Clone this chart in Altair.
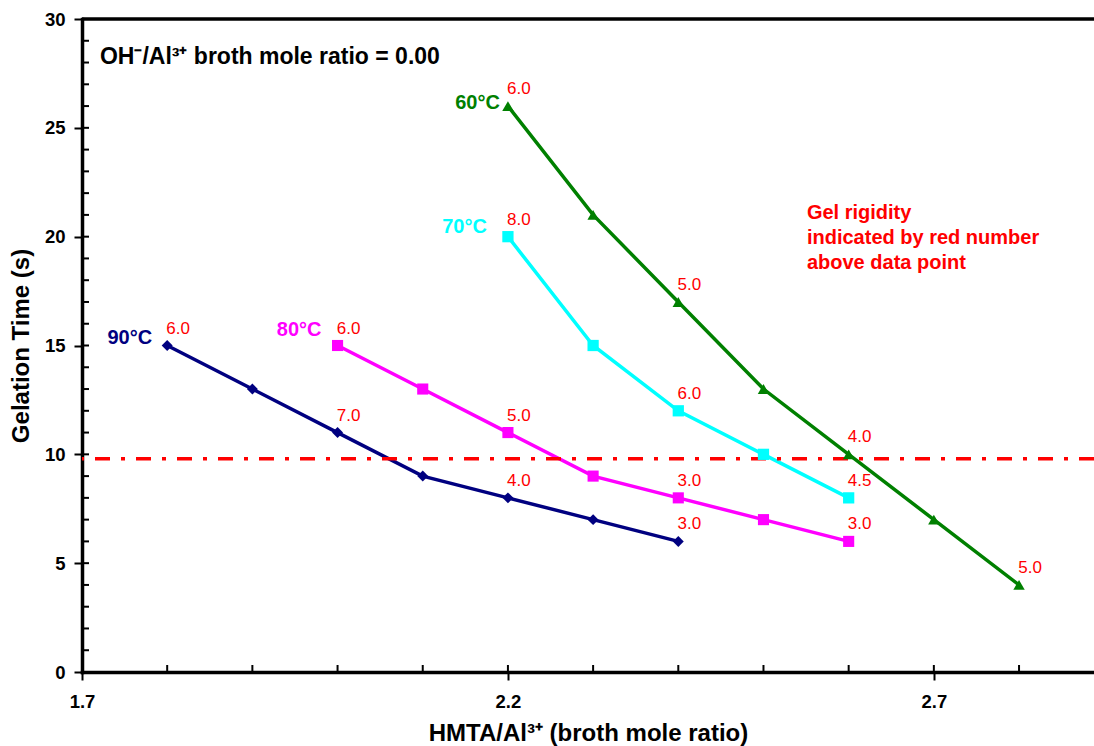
import altair as alt
import pandas as pd

# ---- data ----
series_names = ["90°C", "80°C", "70°C", "60°C"]

x_90 = [1.8, 1.9, 2.0, 2.1, 2.2, 2.3, 2.4]
y_90 = [15, 13, 11, 9, 8, 7, 6]
r_90 = ["6.0", "", "7.0", "", "4.0", "", "3.0"]

x_80 = [2.0, 2.1, 2.2, 2.3, 2.4, 2.5, 2.6]
y_80 = [15, 13, 11, 9, 8, 7, 6]
r_80 = ["6.0", "", "5.0", "", "3.0", "", "3.0"]

x_70 = [2.2, 2.3, 2.4, 2.5, 2.6]
y_70 = [20, 15, 12, 10, 8]
r_70 = ["8.0", "", "6.0", "", "4.5"]

x_60 = [2.2, 2.3, 2.4, 2.5, 2.6, 2.7, 2.8]
y_60 = [26, 21, 17, 13, 10, 7, 4]
r_60 = ["6.0", "", "5.0", "", "4.0", "", "5.0"]

threshold = 9.8
x_major_ticks = [1.7, 2.2, 2.7]
x_minor_ticks = [1.7, 1.8, 1.9, 2.0, 2.1, 2.2, 2.3, 2.4, 2.5, 2.6, 2.7, 2.8]
y_major_ticks = [0, 5, 10, 15, 20, 25, 30]
y_minor_ticks = list(range(0, 31))

note_text = "OH⁻/Al³⁺ broth mole ratio = 0.00"
note_pos = (1.721, 28.25)
gel_text = ["Gel rigidity", "indicated by red number", "above data point"]
gel_pos = (2.551, 21.55)

# ---- styles ----
FONT = "Liberation Sans"
colors = {"90°C": "#000080", "80°C": "#FF00FF", "70°C": "#00FFFF", "60°C": "#008000"}
shapes = {"90°C": "diamond", "80°C": "square", "70°C": "square", "60°C": "triangle-up"}
sizes = {"90°C": 120, "80°C": 130, "70°C": 130, "60°C": 130}
label_offsets = {"90°C": (-15, -8), "80°C": (-16, -16), "70°C": (-21, -10), "60°C": (-8, -3)}

rows = []
for name, xs, ys, rs in [("90°C", x_90, y_90, r_90), ("80°C", x_80, y_80, r_80),
                         ("70°C", x_70, y_70, r_70), ("60°C", x_60, y_60, r_60)]:
    for i, (xv, yv, rv) in enumerate(zip(xs, ys, rs)):
        rows.append({"series": name, "x": xv, "y": yv, "rig": rv, "order": i})
df = pd.DataFrame(rows)

xscale = alt.Scale(domain=[1.7, 2.888], nice=False, zero=False)
yscale = alt.Scale(domain=[0, 30], nice=False)

col_scale = alt.Scale(domain=series_names, range=[colors[s] for s in series_names])
shape_scale = alt.Scale(domain=series_names, range=[shapes[s] for s in series_names])
size_scale = alt.Scale(domain=series_names, range=[sizes[s] for s in series_names])

X_TITLE = "HMTA/Al³⁺ (broth mole ratio)"
Y_TITLE = "Gelation Time (s)"
axis_style = dict(
    grid=False, tickSize=8, tickWidth=2, domainWidth=3.5, domainColor="black",
    tickColor="black", labelFont=FONT, labelFontSize=18.5, labelFontWeight="bold",
    labelColor="black", titleFont=FONT, titleFontSize=24,
    titleFontWeight="bold", titleColor="black", labelFlush=False, domainCap="square",
)
x_axis = alt.Axis(values=x_major_ticks, format=".1f", title=X_TITLE,
                  titlePadding=11, labelPadding=12, **axis_style)
y_axis = alt.Axis(values=y_major_ticks, title=Y_TITLE, titlePadding=11, labelPadding=9,
                  **axis_style)


def X(field="x"):
    return alt.X(f"{field}:Q", scale=xscale, axis=x_axis)


def Y(field="y"):
    return alt.Y(f"{field}:Q", scale=yscale, axis=y_axis)


base = alt.Chart(df)

lines = base.mark_line(strokeWidth=3.5).encode(
    x=X(), y=Y(),
    color=alt.Color("series:N", scale=col_scale, legend=None),
    detail="series:N",
    order="order:Q",
)
points = base.mark_point(filled=True, opacity=1).encode(
    x=X(), y=Y(),
    color=alt.Color("series:N", scale=col_scale, legend=None),
    shape=alt.Shape("series:N", scale=shape_scale, legend=None),
    size=alt.Size("series:N", scale=size_scale, legend=None),
)
rig_text = base.transform_filter("datum.rig != ''").mark_text(
    font=FONT, fontSize=17, color="#FF0000", align="center", baseline="middle", dx=11, dy=-17
).encode(x=X(), y=Y(), text="rig:N")

series_labels = []
for s in series_names:
    dx, dy = label_offsets[s]
    series_labels.append(
        base.transform_filter(f"datum.series == '{s}' && datum.order == 0").mark_text(
            font=FONT, fontSize=20, fontWeight="bold", color=colors[s], align="right",
            baseline="middle", dx=dx, dy=dy
        ).encode(x=X(), y=Y(), text="series:N")
    )

thr = alt.Chart(pd.DataFrame({"y": [threshold]})).mark_rule(
    color="#FF0000", strokeWidth=3.5, strokeDash=[15, 11, 4, 11]
).encode(y=Y())

top_border = alt.Chart(pd.DataFrame({"y": [30]})).mark_rule(color="black", strokeWidth=3.5).encode(
    y=Y())

xminor = alt.Chart(pd.DataFrame({"x": x_minor_ticks})).mark_rule(color="black", strokeWidth=2).encode(
    x=X(), y=alt.value(653), y2=alt.value(646))
yminor = alt.Chart(pd.DataFrame({"y": y_minor_ticks})).mark_rule(color="black", strokeWidth=2).encode(
    y=Y(), x=alt.value(0), x2=alt.value(7))

note = alt.Chart(pd.DataFrame({"x": [note_pos[0]], "y": [note_pos[1]], "t": [note_text]})).mark_text(
    font=FONT, fontSize=23, fontWeight="bold", color="black", align="left", baseline="middle"
).encode(x=X(), y=Y(), text="t:N")

gel = alt.Chart(pd.DataFrame({"x": [gel_pos[0]], "y": [gel_pos[1]], "t": [gel_text]})).mark_text(
    font=FONT, fontSize=20, fontWeight="bold", color="#FF0000", align="left", baseline="top",
    lineHeight=25
).encode(x=X(), y=Y(), text="t")

chart = alt.layer(
    lines, thr, xminor, yminor, points, rig_text, *series_labels, note, gel, top_border
).properties(
    width=1012, height=653,
    autosize=alt.AutoSizeParams(type="none"),
    padding={"left": 82, "top": 19, "right": 0, "bottom": 74},
).configure_view(stroke=None).configure(background="white")

chart.save("out.html", embed_options={"renderer": "svg", "actions": False})
